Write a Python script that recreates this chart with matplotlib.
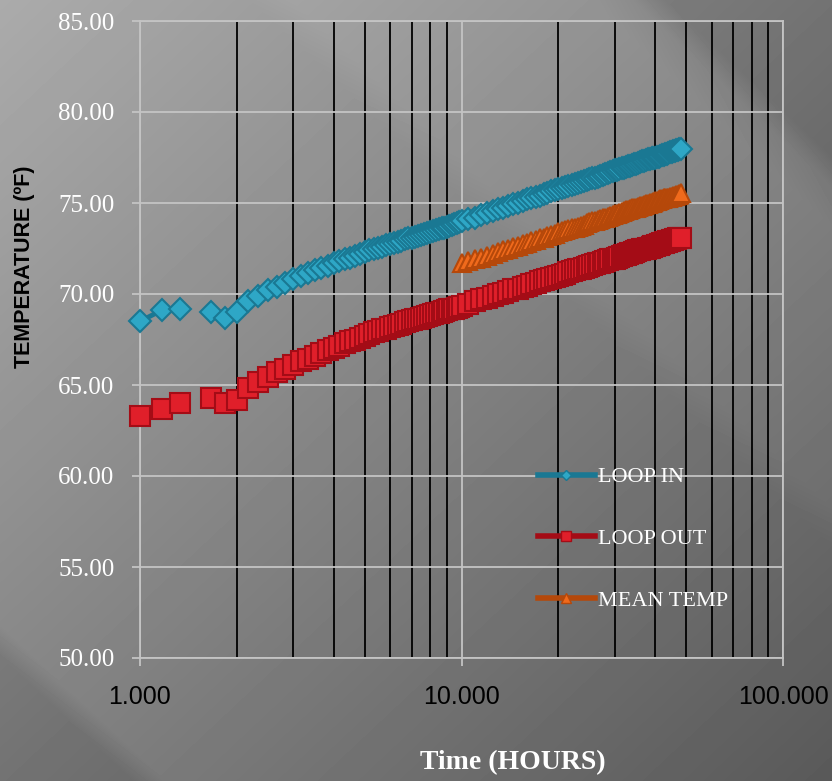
import numpy as np
import matplotlib
matplotlib.use("Agg")
import matplotlib.pyplot as plt
from matplotlib.lines import Line2D
from matplotlib.ticker import MultipleLocator, LogLocator, NullFormatter, FuncFormatter

nan = float("nan")

# elapsed time of each reading, minutes (10 min logging up to 10 h, then every 30 min)
minutes = [
    60, 70, 80, 90, 100, 110, 120, 130, 140, 150, 160, 170, 180, 190,
    200, 210, 220, 230, 240, 250, 260, 270, 280, 290, 300, 310, 320, 330,
    340, 350, 360, 370, 380, 390, 400, 410, 420, 430, 440, 450, 460, 470,
    480, 490, 500, 510, 520, 530, 540, 550, 560, 570, 580, 590, 600,
    630, 660, 690, 720, 750, 780, 810, 840, 870, 900, 930, 960, 990, 1020,
    1050, 1080, 1110, 1140, 1170, 1200, 1230, 1260, 1290, 1320, 1350, 1380,
    1410, 1440, 1470, 1500, 1530, 1560, 1590, 1620, 1650, 1680, 1710, 1740,
    1770, 1800, 1830, 1860, 1890, 1920, 1950, 1980, 2010, 2040, 2070, 2100,
    2130, 2160, 2190, 2220, 2250, 2280, 2310, 2340, 2370, 2400, 2430, 2460,
    2490, 2520, 2550, 2580, 2610, 2640, 2670, 2700, 2730, 2760, 2790, 2820,
    2850, 2880,
]

loop_in = [
    68.5, 69.1, 69.2, nan, 69.0, 68.7, 69.0, 69.6, 69.9, 70.2, 70.4, 70.6, 70.85,
    71.0, 71.15, 71.3, 71.45, 71.55, 71.7, 71.8, 71.9, 72.0, 72.1, 72.2, 72.3,
    72.4, 72.45, 72.55, 72.6, 72.7, 72.75,
    72.8, 72.85, 72.9, 73.0, 73.05, 73.1, 73.15, 73.2, 73.25, 73.3, 73.35, 73.4,
    73.45, 73.5, 73.55, 73.6, 73.65, 73.7, 73.75, 73.8, 73.85, 73.9, 73.95, 74.0,
    74.1, 74.2, 74.35, 74.45, 74.55, 74.65, 74.75, 74.85, 74.95, 75.0,
    75.1, 75.2, 75.25, 75.35, 75.4, 75.5, 75.55, 75.65, 75.7, 75.75,
    75.8, 75.9, 75.95, 76.0, 76.05, 76.1, 76.15, 76.2, 76.25, 76.3,
    76.35, 76.4, 76.45, 76.5, 76.55, 76.6, 76.65, 76.7, 76.75, 76.8,
    76.8, 76.85, 76.9, 76.95, 77.0, 77.05, 77.05, 77.1, 77.15, 77.15,
    77.2, 77.25, 77.3, 77.3, 77.35, 77.4, 77.4, 77.45, 77.5, 77.5,
    77.55, 77.55, 77.6, 77.65, 77.65, 77.7, 77.7, 77.75, 77.8, 77.8,
    77.85, 77.85, 77.9, 77.9, 77.95, 77.95,
]

loop_out = [
    63.3, 63.7, 64.0, nan, 64.3, 64.0, 64.2, 64.85, 65.15, 65.45, 65.7, 65.9, 66.1,
    66.3, 66.45, 66.6, 66.75, 66.9, 67.05, 67.15, 67.3, 67.4, 67.5, 67.6, 67.7,
    67.8, 67.9, 67.95, 68.05, 68.1, 68.2,
    68.25, 68.3, 68.35, 68.45, 68.5, 68.55, 68.6, 68.65, 68.7, 68.75, 68.8, 68.85,
    68.9, 68.95, 68.95, 69.0, 69.05, 69.1, 69.15, 69.2, 69.2, 69.25, 69.3, 69.35,
    69.45, 69.6, 69.7, 69.8, 69.9, 70.0, 70.05, 70.15, 70.25, 70.3,
    70.4, 70.45, 70.55, 70.6, 70.7, 70.75, 70.8, 70.9, 70.95, 71.0,
    71.05, 71.1, 71.2, 71.25, 71.3, 71.35, 71.4, 71.45, 71.5, 71.55,
    71.6, 71.65, 71.7, 71.7, 71.75, 71.8, 71.85, 71.9, 71.95, 71.95,
    72.0, 72.05, 72.1, 72.15, 72.15, 72.2, 72.25, 72.25, 72.3, 72.35,
    72.4, 72.4, 72.45, 72.5, 72.5, 72.55, 72.55, 72.6, 72.65, 72.65,
    72.7, 72.7, 72.75, 72.8, 72.8, 72.85, 72.85, 72.9, 72.9, 72.95,
    72.95, 73.0, 73.0, 73.05, 73.05, 73.1,
]

# mean temperature is only logged from 10 h onwards
mean_temp = [
    71.7,
    71.8, 71.9, 72.0, 72.1, 72.2, 72.3, 72.4, 72.5, 72.6, 72.65,
    72.75, 72.8, 72.9, 72.95, 73.05, 73.1, 73.2, 73.25, 73.3, 73.4,
    73.45, 73.5, 73.55, 73.6, 73.65, 73.7, 73.75, 73.8, 73.9, 73.95,
    74.0, 74.0, 74.05, 74.1, 74.15, 74.2, 74.25, 74.3, 74.35, 74.4,
    74.4, 74.45, 74.5, 74.55, 74.6, 74.6, 74.65, 74.7, 74.7, 74.75,
    74.8, 74.85, 74.85, 74.9, 74.95, 74.95, 75.0, 75.0, 75.05, 75.1,
    75.1, 75.15, 75.2, 75.2, 75.25, 75.25, 75.3, 75.3, 75.35, 75.35,
    75.4, 75.4, 75.45, 75.45, 75.5, 75.55,
]

labels = ["LOOP IN", "LOOP OUT", "MEAN TEMP"]

hours = np.array(minutes) / 60.0
hours_mean = hours[minutes.index(600):]

IN_FILL, IN_DARK = "#2ea7c6", "#1a7893"
OUT_FILL, OUT_DARK = "#e01f2a", "#a40c16"
MEAN_FILL, MEAN_DARK = "#f06a1c", "#b5480a"
GRID = "#c4c4c4"

SERIF = "Liberation Serif"
SANS = "Liberation Sans"

W, H = 832, 781
fig = plt.figure(figsize=(W / 100, H / 100), dpi=100)

# grey slide background: light top-left, darker bottom-right, with diagonal bands
yy, xx = np.mgrid[0:H, 0:W]
u = xx / W
v = yy / H
diag = (u + v) / 2
skew = u - v
shade = 0.67 - 0.32 * diag
shade -= 0.06 * np.clip((skew - 0.76) / 0.04, 0, 1)
shade -= 0.06 * np.clip((-skew - 0.80) / 0.04, 0, 1)
shade += 0.025 * np.clip((skew - 0.30) / 0.05, 0, 1) * np.clip((0.76 - skew) / 0.05, 0, 1)
bg = fig.add_axes([0, 0, 1, 1], zorder=0)
bg.imshow(shade, cmap="gray", vmin=0, vmax=1, aspect="auto", interpolation="bilinear")
bg.axis("off")

ax = fig.add_axes([140 / W, 1 - 658 / H, (783 - 140) / W, (658 - 21) / H], zorder=1)
ax.patch.set_alpha(0)

ax.plot(hours, loop_in, "-", color=IN_DARK, lw=3.5, marker="D", ms=11,
        mfc=IN_FILL, mec=IN_DARK, mew=1.5, zorder=3, clip_on=False)
ax.plot(hours, loop_out, "-", color=OUT_DARK, lw=3.5, marker="s", ms=14,
        mfc=OUT_FILL, mec=OUT_DARK, mew=1.5, zorder=3, clip_on=False)
ax.plot(hours_mean, mean_temp, "-", color=MEAN_DARK, lw=3.5, marker="^", ms=12.5,
        mfc=MEAN_FILL, mec=MEAN_DARK, mew=1.5, zorder=3, clip_on=False)

ax.set_xscale("log")
ax.set_xlim(1, 100)
ax.set_ylim(50, 85)
ax.yaxis.set_major_locator(MultipleLocator(5))
ax.xaxis.set_major_locator(LogLocator(base=10))
ax.xaxis.set_minor_locator(LogLocator(base=10, subs=np.arange(2, 10)))
ax.xaxis.set_minor_formatter(NullFormatter())
ax.xaxis.set_major_formatter(FuncFormatter(lambda val, pos: f"{val:.3f}"))
ax.yaxis.set_major_formatter(FuncFormatter(lambda val, pos: f"{val:.2f}"))

ax.set_axisbelow(True)
ax.grid(True, which="major", color=GRID, lw=1.3)
ax.grid(True, which="minor", axis="x", color="black", lw=1.3)
for sp in ax.spines.values():
    sp.set_color(GRID)
    sp.set_linewidth(1.3)

ax.tick_params(axis="both", which="major", length=5.5, width=1.3, color=GRID)
ax.tick_params(axis="x", which="minor", length=0)
ax.tick_params(axis="y", pad=13, labelcolor="white")
ax.tick_params(axis="x", pad=14, labelcolor="black")
for lab in ax.get_yticklabels():
    lab.set_fontfamily(SERIF)
    lab.set_fontsize(18)
for lab in ax.get_xticklabels():
    lab.set_fontfamily(SANS)
    lab.set_fontsize(18)

fig.text(25 / W, 1 - 267 / H, "TEMPERATURE (ºF)", rotation=90, ha="center", va="center",
         fontfamily=SANS, fontweight="bold", fontsize=15.5, color="black")
fig.text(513 / W, 1 - 763 / H, "Time (HOURS)", ha="center", va="center",
         fontfamily=SERIF, fontweight="bold", fontsize=20, color="white")

handles = [
    Line2D([], [], color=IN_DARK, lw=4, marker="D", ms=5, mfc=IN_FILL, mec=IN_DARK, mew=1),
    Line2D([], [], color=OUT_DARK, lw=4, marker="s", ms=7, mfc=OUT_FILL, mec=OUT_DARK, mew=1),
    Line2D([], [], color=MEAN_DARK, lw=4, marker="^", ms=7, mfc=MEAN_FILL, mec=MEAN_DARK, mew=1),
]
ax.legend(handles, labels, loc="center left", bbox_to_anchor=(0.619, 0.187),
          frameon=False, labelcolor="white", prop={"family": SERIF, "size": 16},
          handlelength=2.55, handletextpad=0.15, labelspacing=1.85,
          borderpad=0, borderaxespad=0)

fig.savefig("out.png", dpi=100)
